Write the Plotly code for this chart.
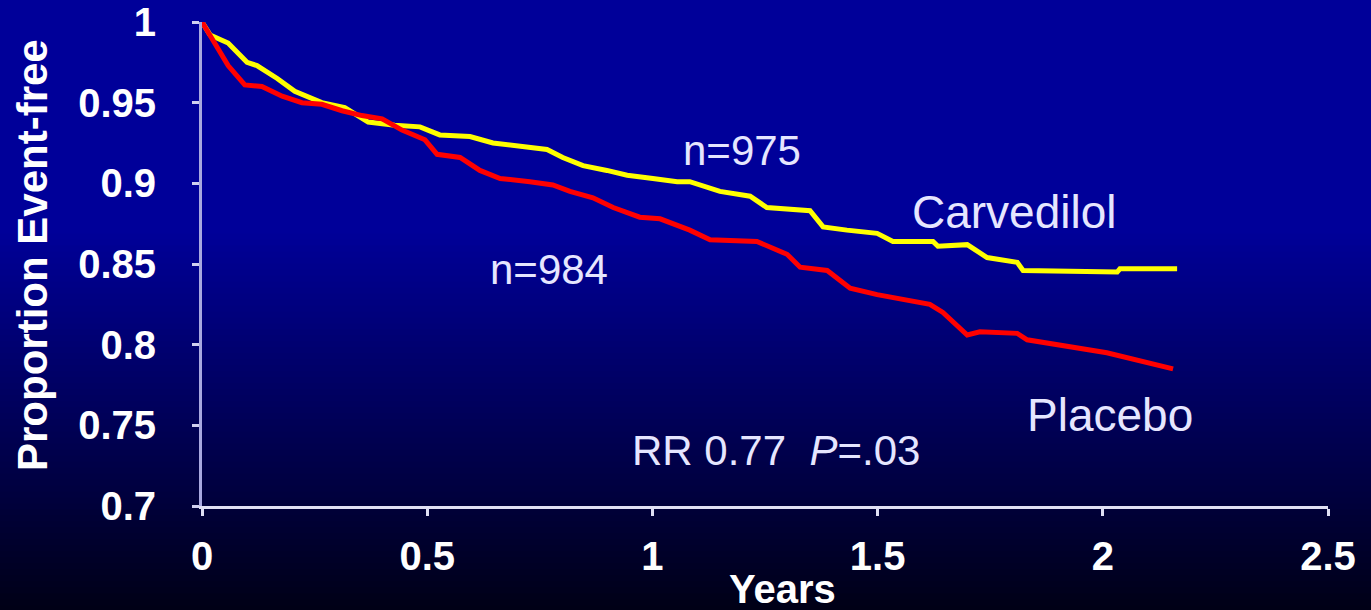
import plotly.graph_objects as go

# Kaplan-Meier style curves
carv_years = [0.0, 0.018, 0.058, 0.100, 0.122, 0.167, 0.206, 0.266, 0.317, 0.369, 0.428, 0.484,
              0.528, 0.595, 0.646, 0.706, 0.766, 0.801, 0.846, 0.899, 0.944, 1.001, 1.055, 1.083,
              1.150, 1.217, 1.254, 1.350, 1.379, 1.432, 1.499, 1.534, 1.623, 1.634, 1.699, 1.743,
              1.810, 1.823, 2.032, 2.038, 2.165]
carv_surv = [1.000, 0.992, 0.987, 0.975, 0.973, 0.965, 0.957, 0.950, 0.947, 0.938, 0.936, 0.935,
             0.930, 0.929, 0.925, 0.923, 0.921, 0.916, 0.911, 0.908, 0.905, 0.903, 0.901, 0.901,
             0.895, 0.892, 0.885, 0.883, 0.873, 0.871, 0.869, 0.864, 0.864, 0.861, 0.862, 0.854,
             0.851, 0.846, 0.845, 0.847, 0.847]

plac_years = [0.0, 0.029, 0.058, 0.095, 0.133, 0.178, 0.222, 0.266, 0.311, 0.355, 0.400, 0.444,
              0.495, 0.522, 0.573, 0.617, 0.662, 0.728, 0.779, 0.817, 0.868, 0.913, 0.972, 1.017,
              1.061, 1.083, 1.128, 1.232, 1.299, 1.328, 1.388, 1.439, 1.499, 1.594, 1.616, 1.645,
              1.699, 1.727, 1.810, 1.832, 2.009, 2.156]
plac_surv = [1.000, 0.986, 0.973, 0.961, 0.960, 0.954, 0.950, 0.949, 0.945, 0.942, 0.940, 0.933,
             0.927, 0.918, 0.916, 0.908, 0.903, 0.901, 0.899, 0.895, 0.891, 0.885, 0.879, 0.878,
             0.873, 0.871, 0.865, 0.864, 0.856, 0.848, 0.846, 0.835, 0.831, 0.826, 0.825, 0.820,
             0.806, 0.808, 0.807, 0.803, 0.795, 0.785]

x_ticks = [0, 0.5, 1, 1.5, 2, 2.5]
x_tick_labels = ["0", "0.5", "1", "1.5", "2", "2.5"]
y_ticks = [0.7, 0.75, 0.8, 0.85, 0.9, 0.95, 1.0]
y_tick_labels = ["0.7", "0.75", "0.8", "0.85", "0.9", "0.95", "1"]

W, H = 1371, 610
L, R, T, B = 202, 43, 22, 104
plot_h = H - T - B
plot_w = W - L - R

fig = go.Figure()
fig.add_trace(go.Scatter(x=carv_years, y=carv_surv, mode="lines", name="Carvedilol",
                         line=dict(color="#ffff00", width=5)))
fig.add_trace(go.Scatter(x=plac_years, y=plac_surv, mode="lines", name="Placebo",
                         line=dict(color="#ff0000", width=5)))

# gradient background made of thin bands
shapes = []
step = 6
for py in range(0, H, step):
    mid = py + step / 2
    if mid < 230:
        b = 153
    else:
        t = (mid - 230) / (H - 230)
        b = round(153 - t * 131)
    y0 = (H - B - (py + step)) / plot_h
    y1 = (H - B - py) / plot_h
    shapes.append(dict(type="rect", xref="paper", yref="paper", x0=-0.2, x1=1.1,
                       y0=y0 - 0.001, y1=y1 + 0.001, fillcolor=f"rgb(0,0,{b})",
                       line=dict(width=0), layer="below"))

txt = "#e6e6ff"
font_reg = "Liberation Sans, Arial, sans-serif"
annotations = [
    dict(x=1.199, y=0.9206, text="n=975", font=dict(size=42, color=txt, family=font_reg)),
    dict(x=1.805, y=0.8822, text="Carvedilol", font=dict(size=46, color=txt, family=font_reg)),
    dict(x=0.770, y=0.8463, text="n=984", font=dict(size=42, color=txt, family=font_reg)),
    dict(x=2.016, y=0.7564, text="Placebo", font=dict(size=46, color=txt, family=font_reg)),
    dict(x=1.274, y=0.7347, text="RR 0.77  <i>P</i>=.03", font=dict(size=42, color=txt, family=font_reg)),
    dict(x=(782 - L) / plot_w, xref="paper", y=(H - B - 589) / plot_h, yref="paper",
         text="<b>Years</b>", font=dict(size=40, color="white", family=font_reg)),
    dict(x=(32 - L) / plot_w, xref="paper", y=(H - B - 255) / plot_h, yref="paper",
         text="<b>Proportion Event-free</b>", textangle=-90,
         font=dict(size=42, color="white", family=font_reg)),
]
for a in annotations:
    a.setdefault("xref", "x")
    a.setdefault("yref", "y")
    a["showarrow"] = False
    a["xanchor"] = "center"
    a["yanchor"] = "middle"

tickfont = dict(size=40, color="white", family="Liberation Sans, Arial, sans-serif", weight="bold")
fig.update_layout(
    width=W, height=H,
    margin=dict(l=L, r=R, t=T, b=B),
    paper_bgcolor="#000099",
    plot_bgcolor="rgba(0,0,0,0)",
    showlegend=False,
    shapes=shapes,
    annotations=annotations,
    xaxis=dict(range=[0, 2.5], tickvals=x_ticks, ticktext=x_tick_labels, automargin=False,
               showgrid=False, zeroline=False, showline=True, linecolor="#e0e0f4", linewidth=3,
               ticks="outside", ticklen=7, tickwidth=3, tickcolor="#e0e0f4",
               ticklabelstandoff=6, tickfont=tickfont),
    yaxis=dict(range=[0.7, 1.0], tickvals=y_ticks, ticktext=y_tick_labels, automargin=False,
               showgrid=False, zeroline=False, showline=True, linecolor="#a8a8e0", linewidth=3,
               ticks="outside", ticklen=7, tickwidth=3, tickcolor="#d0d0f0",
               ticklabelstandoff=28, tickfont=tickfont),
)

fig.write_html("out.html", config={"displayModeBar": False},
               post_script="document.body.style.margin='0';document.body.style.overflow='hidden';")
